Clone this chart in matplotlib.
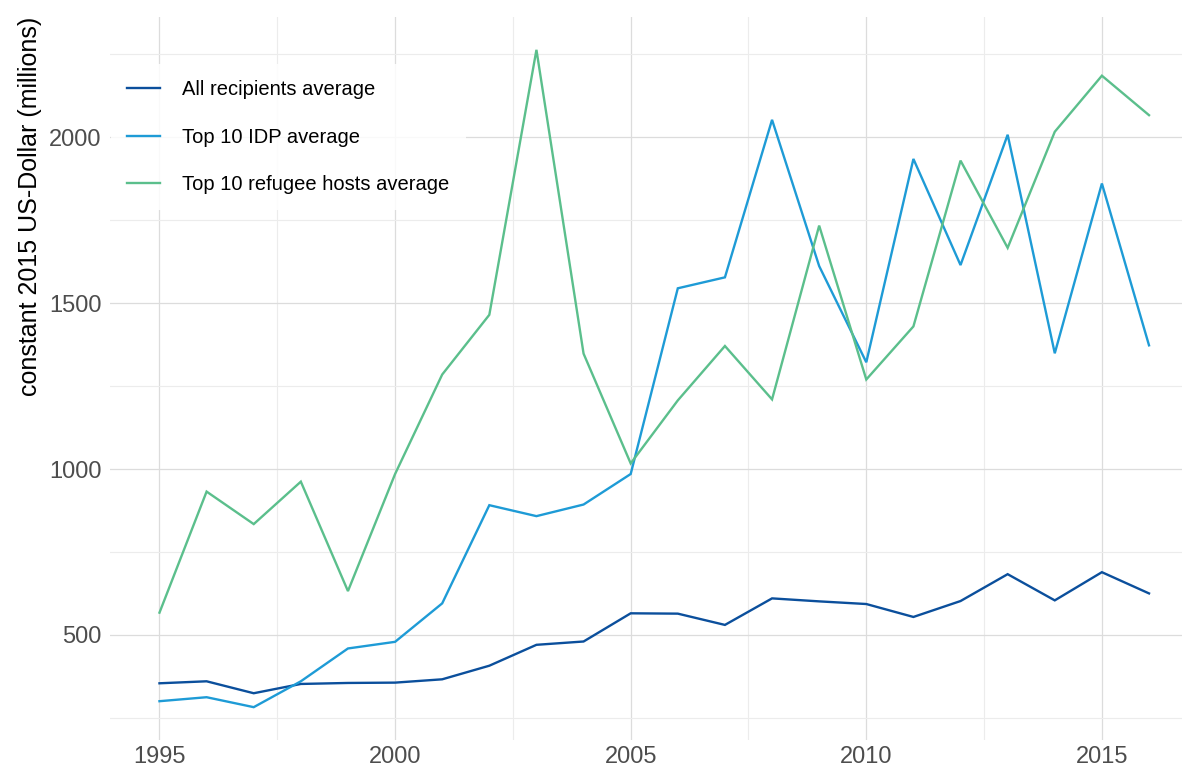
import matplotlib
matplotlib.use('Agg')
import matplotlib.pyplot as plt

# data
years = list(range(1995, 2017))
all_recipients = [354, 360, 324, 352, 355, 356, 366, 407, 470, 480, 565,
                  564, 530, 610, 601, 593, 554, 602, 683, 604, 689, 625]
top10_idp = [300, 312, 282, 360, 459, 479, 595, 891, 858, 893, 985,
             1545, 1578, 2053, 1612, 1322, 1935, 1615, 2008, 1349, 1861, 1373]
top10_refugee = [567, 932, 834, 962, 632, 985, 1285, 1465, 2264, 1348, 1017,
                 1207, 1371, 1210, 1734, 1270, 1430, 1930, 1667, 2017, 2186, 2067]

labels = ['All recipients average', 'Top 10 IDP average', 'Top 10 refugee hosts average']
colors = ['#0b4f9c', '#1e9bd6', '#5bbf8c']

plt.rcParams['font.family'] = ['Liberation Sans', 'DejaVu Sans']

fig = plt.figure(figsize=(11.82, 7.68), dpi=100)
# panel: x 110..1182 px, y 17..740 px
ax = fig.add_axes([110 / 1182, 1 - 740 / 768, 1072 / 1182, 723 / 768])

for series, lab, col in zip([all_recipients, top10_idp, top10_refugee], labels, colors):
    ax.plot(years, series, color=col, lw=1.7, label=lab, solid_joinstyle='miter')

ax.set_xlim(1993.95, 2016.7)
ax.set_ylim(183, 2363)

ax.set_xticks([1995, 2000, 2005, 2010, 2015])
ax.set_xticks([1997.5, 2002.5, 2007.5, 2012.5], minor=True)
ax.set_yticks([500, 1000, 1500, 2000])
ax.set_yticks([250, 750, 1250, 1750, 2250], minor=True)

ax.grid(which='major', color='#dcdcdc', lw=0.9)
ax.grid(which='minor', color='#ececec', lw=0.8)
ax.set_axisbelow(True)
for s in ax.spines.values():
    s.set_visible(False)
ax.tick_params(which='both', length=0, labelsize=17, labelcolor='#4d4d4d')
ax.tick_params(axis='x', pad=4)
ax.tick_params(axis='y', pad=6)

ax.set_ylabel('constant 2015 US-Dollar (millions)', fontsize=18, color='black',
              labelpad=5, loc='top')

leg = ax.legend(loc='upper left', bbox_to_anchor=(0.001, 0.935), fontsize=14.5,
                frameon=True, fancybox=False, handlelength=1.64, handletextpad=1.1,
                labelspacing=1.42, borderpad=0.8, borderaxespad=0.0)
leg.get_frame().set_facecolor('white')
leg.get_frame().set_edgecolor('none')
leg.get_frame().set_alpha(0.85)

fig.savefig('out.png', dpi=100)
